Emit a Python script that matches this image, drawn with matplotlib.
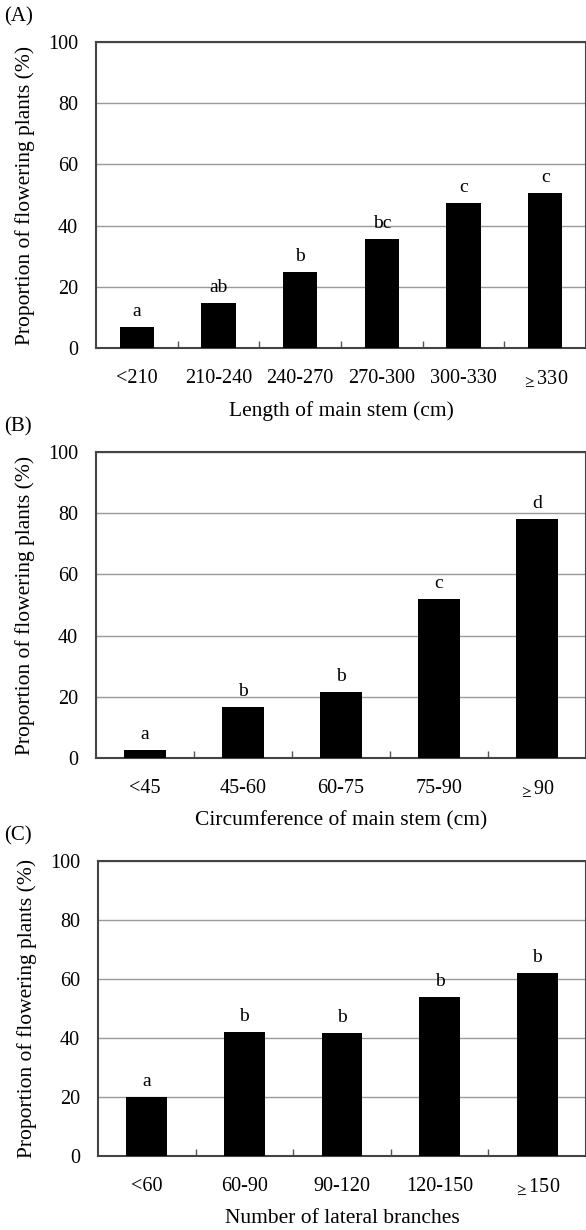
import matplotlib
matplotlib.use('Agg')
import matplotlib.pyplot as plt
import matplotlib.ticker as ticker
import numpy as np

plt.rcParams['font.family'] = ['Liberation Serif', 'DejaVu Serif']
plt.rcParams['mathtext.fontset'] = 'stix'
plt.rcParams['font.size'] = 14

# Panel A: length of main stem
cats_a = ['<210', '210-240', '240-270', '270-300', '300-330', r'$_{\geq}$330']
vals_a = [6.9, 14.7, 24.8, 35.6, 47.4, 50.7]
sig_a = ['a', 'ab', 'b', 'bc', 'c', 'c']

# Panel B: circumference of main stem
cats_b = ['<45', '45-60', '60-75', '75-90', r'$_{\geq}$90']
vals_b = [2.6, 16.7, 21.6, 52.0, 78.1]
sig_b = ['a', 'b', 'b', 'c', 'd']

# Panel C: number of lateral branches
cats_c = ['<60', '60-90', '90-120', '120-150', r'$_{\geq}$150']
vals_c = [20.0, 42.0, 41.7, 53.9, 62.0]
sig_c = ['a', 'b', 'b', 'b', 'b']

panels = [
    ('(A)', cats_a, vals_a, sig_a, 'Length of main stem (cm)', [96, 42, 586, 348]),
    ('(B)', cats_b, vals_b, sig_b, 'Circumference of main stem (cm)', [96, 452, 586, 758]),
    ('(C)', cats_c, vals_c, sig_c, 'Number of lateral branches', [98, 861, 586, 1156]),
]

W, H = 586, 1230
fig = plt.figure(figsize=(W / 100, H / 100), dpi=100)

for tag, cats, vals, sig, xlab, (x0, y0, x1, y1) in panels:
    ax = fig.add_axes([x0 / W, 1 - y1 / H, (x1 - x0) / W, (y1 - y0) / H])
    x = np.arange(len(cats))
    ax.bar(x, vals, width=0.42, color='black', zorder=3)
    for xi, v, s in zip(x, vals, sig):
        ax.annotate(s, (xi, v), xytext=(0, 5), textcoords='offset points',
                    ha='center', va='bottom', fontsize=14)
    ax.set_xlim(-0.5, len(cats) - 0.5)
    ax.set_ylim(0, 100)
    ax.set_xticks(x)
    ax.set_xticklabels(cats)
    ax.xaxis.set_minor_locator(ticker.FixedLocator(x[:-1] + 0.5))
    ax.tick_params(axis='x', which='major', length=0, pad=15, labelsize=14.5)
    ax.tick_params(axis='x', which='minor', direction='in', length=5,
                   width=1, color='#555555')
    ax.set_yticks([0, 20, 40, 60, 80, 100])
    ax.tick_params(axis='y', length=0, pad=13, labelsize=14.5)
    ax.grid(True, axis='y', color='#9a9a9a', linewidth=1, zorder=0)
    for sp in ax.spines.values():
        sp.set_color('#444444')
        sp.set_linewidth(1.5)
    ax.set_xlabel(xlab, fontsize=15.5, labelpad=8)
    ax.set_ylabel('Proportion of flowering plants (%)', fontsize=15.5, labelpad=9)
    fig.text(4 / W, 1 - (y0 - 25) / H, tag, fontsize=15, ha='left', va='center')

fig.savefig('out.png', dpi=100)
